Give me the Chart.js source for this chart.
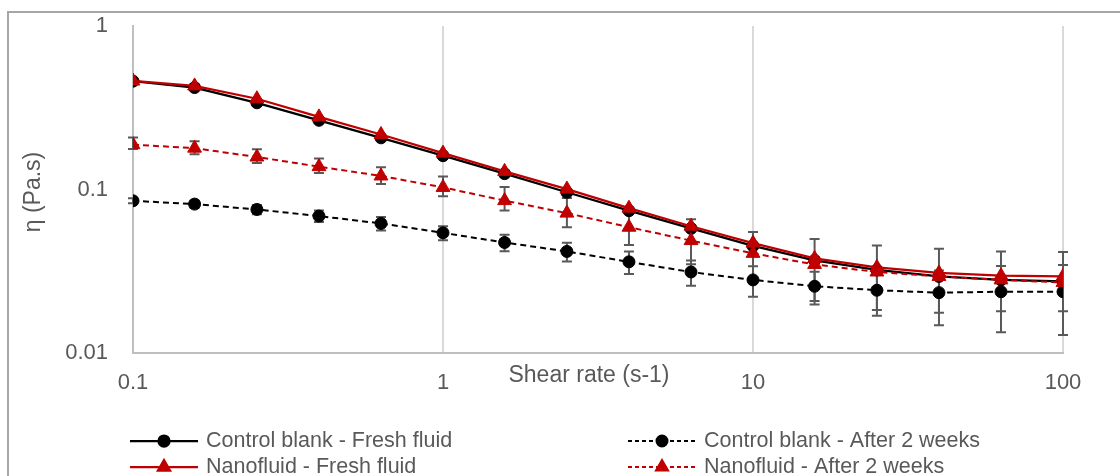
<!DOCTYPE html>
<html>
<head>
<meta charset="utf-8">
<script src="https://cdn.jsdelivr.net/npm/chart.js@4/dist/chart.umd.min.js"></script>
<style>
  html, body { margin: 0; padding: 0; background: #fff; overflow: hidden; }
  #wrap { position: relative; width: 1120px; height: 476px; }
  #frame { position: absolute; left: 7px; top: 11px; width: 1300px; height: 600px;
           border-left: 2px solid #a6a6a6; border-top: 2px solid #a6a6a6; }
  #chart { position: absolute; left: 0; top: 0; }
</style>
</head>
<body>
<div id="wrap">
  <div id="frame"></div>
  <canvas id="chart" width="1120" height="476"></canvas>
</div>
<script>
// ===== DATA =====
const shearRate = [0.1, 0.158, 0.251, 0.398, 0.631, 1, 1.58, 2.51, 3.98, 6.31, 10, 15.8, 25.1, 39.8, 63.1, 100];

const controlFresh = [0.46, 0.42, 0.339, 0.265, 0.207, 0.161, 0.125, 0.0962, 0.0742, 0.0578, 0.0452, 0.0369, 0.0322, 0.0294, 0.0280, 0.0274];
const nanoFresh    = [0.461, 0.43, 0.359, 0.278, 0.217, 0.167, 0.129, 0.1006, 0.0769, 0.0596, 0.0470, 0.0379, 0.0334, 0.0309, 0.0297, 0.0294];
const controlAged  = [0.0853, 0.0814, 0.0755, 0.0688, 0.0620, 0.0543, 0.0474, 0.0418, 0.0361, 0.0313, 0.0280, 0.0256, 0.0242, 0.0234, 0.0237, 0.0237];
const nanoAged     = [0.188, 0.179, 0.158, 0.138, 0.121, 0.103, 0.0855, 0.0717, 0.0588, 0.0487, 0.0407, 0.0348, 0.0313, 0.0294, 0.0280, 0.0270];

// error bars (only the "after 2 weeks" series have them)
const controlAgedErr  = [0.003, 0.004, 0.005, 0.0056, 0.0058, 0.0053, 0.0055, 0.0055, 0.0057, 0.0055, 0.0059, 0.0058, 0.0073, 0.0086, 0.0103, 0.0108];
const nanoAgedErrUp   = [0.020, 0.018, 0.018, 0.017, 0.016, 0.017, 0.018, 0.017, 0.017, 0.017, 0.0143, 0.015, 0.0142, 0.014, 0.0138, 0.0144];
const nanoAgedErrDown = [0.011, 0.015, 0.013, 0.012, 0.013, 0.012, 0.011, 0.013, 0.013, 0.0138, 0.013, 0.014, 0.013, 0.0118, 0.010, 0.009];

const xTicks = [0.1, 1, 10, 100];
const yTicks = [0.01, 0.1, 1];

const seriesNames = ['Control blank - Fresh fluid', 'Control blank - After 2 weeks', 'Nanofluid - Fresh fluid', 'Nanofluid - After 2 weeks'];

// ===== STYLE =====
const RED = '#c00000';
const BLACK = '#000000';
const TEXT = '#595959';
const FONT = '"Liberation Sans", Arial, sans-serif';

Chart.defaults.font.family = FONT;
Chart.defaults.color = TEXT;

const pts = arr => shearRate.map((x, i) => ({ x, y: arr[i] }));

function series(label, arr, color, dashed, shape, order) {
  return {
    label,
    data: pts(arr),
    borderColor: color,
    backgroundColor: color,
    borderWidth: dashed ? 2 : 2.25,
    borderDash: dashed ? [6, 4] : [],
    pointStyle: shape,
    pointRadius: shape === 'triangle' ? 8 : 6,
    pointBorderWidth: 1,
    pointBackgroundColor: color,
    pointBorderColor: color,
    tension: 0,
    fill: false,
    order
  };
}

const dsCF = series(seriesNames[0], controlFresh, BLACK, false, 'circle', 4);
const dsCA = series(seriesNames[1], controlAged, BLACK, true, 'circle', 3);
const dsNF = series(seriesNames[2], nanoFresh, RED, false, 'triangle', 2);
const dsNA = series(seriesNames[3], nanoAged, RED, true, 'triangle', 1);
dsCA.errUp = controlAgedErr; dsCA.errDown = controlAgedErr;
dsNA.errUp = nanoAgedErrUp;  dsNA.errDown = nanoAgedErrDown;

// error bars, drawn under the markers
const errorBars = {
  id: 'errorBars',
  beforeDatasetsDraw(chart) {
    const { ctx, scales: { x, y } } = chart;
    ctx.save();
    ctx.strokeStyle = '#595959';
    ctx.lineWidth = 2;
    ctx.setLineDash([]);
    chart.data.datasets.forEach(ds => {
      if (!ds.errUp) return;
      ds.data.forEach((p, i) => {
        const px = x.getPixelForValue(p.x);
        const top = y.getPixelForValue(p.y + ds.errUp[i]);
        const bot = y.getPixelForValue(p.y - ds.errDown[i]);
        ctx.beginPath();
        ctx.moveTo(px, top); ctx.lineTo(px, bot);
        ctx.moveTo(px - 5, top); ctx.lineTo(px + 5, top);
        ctx.moveTo(px - 5, bot); ctx.lineTo(px + 5, bot);
        ctx.stroke();
      });
    });
    ctx.restore();
  }
};

// axis titles + legend in the excel layout
const decorations = {
  id: 'decorations',
  afterDraw(chart) {
    const { ctx, chartArea } = chart;
    ctx.save();
    ctx.fillStyle = TEXT;
    ctx.textBaseline = 'middle';

    // x title sits in the tick-label row
    ctx.font = '23px ' + FONT;
    ctx.textAlign = 'center';
    ctx.fillText('Shear rate (s-1)', 589, chartArea.bottom + 23);

    // y title
    ctx.save();
    ctx.translate(34, 192);
    ctx.rotate(-Math.PI / 2);
    ctx.fillText('η (Pa.s)', 0, 0);
    ctx.restore();

    // legend, 2 columns
    const cols = [130, 628];
    const rows = [441, 467];
    const order = [dsCF, dsCA, dsNF, dsNA];
    ctx.font = '21.5px ' + FONT;
    ctx.textAlign = 'left';
    order.forEach((ds, i) => {
      const x0 = cols[i % 2];
      const yy = rows[Math.floor(i / 2)];
      ctx.strokeStyle = ds.borderColor;
      ctx.lineWidth = ds.borderWidth;
      ctx.setLineDash(ds.borderDash.length ? [4, 3] : []);
      ctx.beginPath();
      ctx.moveTo(x0, yy); ctx.lineTo(x0 + 68, yy);
      ctx.stroke();
      ctx.setLineDash([]);
      ctx.fillStyle = ds.borderColor;
      Chart.helpers.drawPoint(ctx, {
        pointStyle: ds.pointStyle,
        radius: ds.pointStyle === 'triangle' ? 7 : 5.5,
        borderWidth: 1,
        rotation: 0
      }, x0 + 34, yy);
      ctx.fillStyle = TEXT;
      ctx.fillText(ds.label, x0 + 76, yy);
    });
    ctx.restore();
  }
};

new Chart(document.getElementById('chart'), {
  type: 'line',
  data: { datasets: [dsCF, dsCA, dsNF, dsNA] },
  options: {
    responsive: false,
    animation: false,
    devicePixelRatio: 1,
    layout: { padding: { left: 0, right: 57, top: 26, bottom: 73 } },
    plugins: { legend: { display: false }, tooltip: { enabled: false } },
    scales: {
      x: {
        type: 'logarithmic',
        min: 0.1, max: 100,
        afterBuildTicks: s => { s.ticks = xTicks.map(v => ({ value: v })); },
        afterFit: s => { s.height = 50; },
        ticks: { font: { size: 22 }, color: TEXT, padding: 17, maxRotation: 0, callback: v => String(v) },
        grid: {
          drawTicks: false,
          lineWidth: 2,
          color: c => (c.tick && c.tick.value === 0.1) ? 'rgba(0,0,0,0)' : '#d9d9d9'
        },
        border: { display: true, color: '#bfbfbf', width: 2 }
      },
      y: {
        type: 'logarithmic',
        min: 0.01, max: 1,
        afterBuildTicks: s => { s.ticks = yTicks.map(v => ({ value: v })); },
        // fixed width; drop the vertical label overhang so the plot top sits where the reference has it
        afterFit: s => { s.width = 133; s.paddingTop = 0; s.paddingBottom = 0; },
        ticks: { font: { size: 22 }, color: TEXT, padding: 25, callback: v => String(v) },
        grid: { drawTicks: false, color: 'rgba(0,0,0,0)' },
        border: { display: true, color: '#bfbfbf', width: 2 }
      }
    }
  },
  plugins: [errorBars, decorations]
});
</script>
</body>
</html>
